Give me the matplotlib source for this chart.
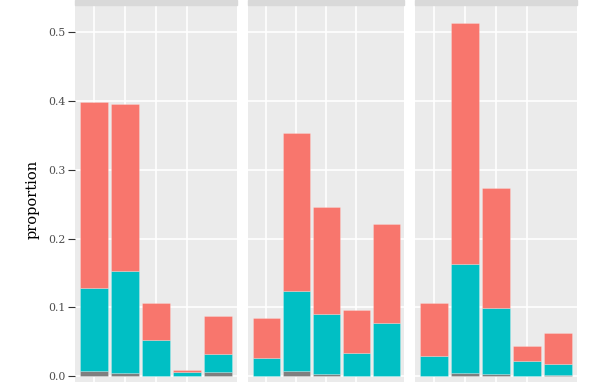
import matplotlib
matplotlib.use("Agg")
import matplotlib.pyplot as plt
import numpy as np

plt.rcParams['font.family'] = ['DejaVu Serif']

categories = ["1", "2", "3", "4", "5"]
panels = ["A", "B", "C"]

# stacked segment values per panel (bottom -> top): NA (grey), teal, red
grey_vals = [
    [0.007, 0.005, 0.001, 0.000, 0.006],
    [0.000, 0.0083, 0.003, 0.000, 0.000],
    [0.000, 0.0044, 0.003, 0.000, 0.0025],
]
teal_tops = [
    [0.1285, 0.1536, 0.053, 0.0058, 0.033],
    [0.026, 0.1245, 0.0903, 0.034, 0.078],
    [0.0295, 0.1635, 0.0987, 0.0218, 0.018],
]
red_tops = [
    [0.3985, 0.396, 0.107, 0.0097, 0.087],
    [0.084, 0.3536, 0.2454, 0.0957, 0.2207],
    [0.1058, 0.5134, 0.2729, 0.044, 0.063],
]
y_ticks = [0.0, 0.1, 0.2, 0.3, 0.4, 0.5]
y_ticklabels = ["0.0", "0.1", "0.2", "0.3", "0.4", "0.5"]

W, H = 592, 382
fig = plt.figure(figsize=(W / 100, H / 100), dpi=100)

# panel pixel extents (left, right)
panel_px = [(75, 237), (248, 404), (415, 577)]
top_px = 5
bottom_px = 394

ymax = max(max(r) for r in red_tops)
ylim = (-0.05 * ymax, 1.05 * ymax)

c_grey = "#7F7F7F"
c_teal = "#00BFC4"
c_red = "#F8766D"
edge = (1, 1, 1, 0.25)

x = np.arange(1, len(categories) + 1)
for i, (l, r) in enumerate(panel_px):
    rect = [l / W, (H - bottom_px) / H, (r - l) / W, (bottom_px - top_px) / H]
    ax = fig.add_axes(rect)
    ax.set_facecolor("#EBEBEB")
    g = np.array(grey_vals[i])
    t = np.array(teal_tops[i]) - g
    rd = np.array(red_tops[i]) - np.array(teal_tops[i])
    ax.bar(x, g, width=0.9, color=c_grey, edgecolor=edge, linewidth=0.6, zorder=3)
    ax.bar(x, t, width=0.9, bottom=g, color=c_teal, edgecolor=edge, linewidth=0.6, zorder=3)
    ax.bar(x, rd, width=0.9, bottom=g + t, color=c_red, edgecolor=edge, linewidth=0.6, zorder=3)
    ax.set_xlim(0.4, len(categories) + 0.6)
    ax.set_ylim(*ylim)
    ax.set_xticks(x[:4])
    ax.set_xticklabels([])
    ax.tick_params(axis='x', length=0)
    ax.set_yticks(y_ticks)
    ax.grid(True, color="white", linewidth=1.2, zorder=0)
    ax.set_axisbelow(True)
    for s in ax.spines.values():
        s.set_visible(False)
    if i == 0:
        ax.set_yticklabels(y_ticklabels, color="#4D4D4D", fontsize=7.8)
        ax.tick_params(axis='y', length=5, width=0.8, color="#333333", pad=2)
        ax.set_ylabel("proportion", fontsize=10.5, labelpad=6)
    else:
        ax.set_yticklabels([])
        ax.tick_params(axis='y', length=0)
    # strip at top (cropped)
    fig.patches.append(plt.Rectangle((l / W, (H - top_px) / H), (r - l) / W, top_px / H,
                                     transform=fig.transFigure, color="#D9D9D9", zorder=5))

fig.savefig("out.png", dpi=100)
